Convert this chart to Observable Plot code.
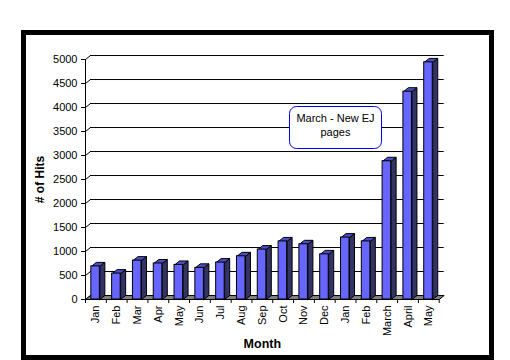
<!DOCTYPE html>
<html><head><meta charset="utf-8">
<script src="https://cdn.jsdelivr.net/npm/d3@7"></script>
<script src="https://cdn.jsdelivr.net/npm/@observablehq/plot@0.6"></script>
<style>body{margin:0;background:#fff}#chart{width:510px;height:360px}</style>
</head><body><div id="chart"></div>
<script>
const months = ["Jan","Feb","Mar","Apr","May","Jun","Jul","Aug","Sep","Oct","Nov","Dec","Jan","Feb","March","April","May"];
const hits = [690,540,810,750,720,660,770,900,1040,1210,1150,940,1290,1210,2880,4330,4940];
const yTicks = [0,500,1000,1500,2000,2500,3000,3500,4000,4500,5000];
const yLabel = "# of Hits";
const xLabel = "Month";
const note = ["March - New EJ","pages"];

const N = months.length;
const DX = 0.24, DY = 83;      // 3-D depth in data units
const X1 = 0.28, X2 = 0.69;    // bar face within category
const bars = months.map((m,i)=>({i, m, v: hits[i]}));
const poly = (pts, id) => pts.concat([pts[0]]).map(([x,y])=>({id,x,y}));
const sides = bars.flatMap(b => poly([[b.i+X2,0],[b.i+X2+DX,DY],[b.i+X2+DX,b.v+DY],[b.i+X2,b.v]], b.i));
const tops = bars.flatMap(b => poly([[b.i+X1,b.v],[b.i+X2,b.v],[b.i+X2+DX,b.v+DY],[b.i+X1+DX,b.v+DY]], b.i));
const floor = poly([[0,0],[N,0],[N+DX,DY],[DX,DY]], 0);

const svg = Plot.plot({
  width: 510, height: 360,
  marginLeft: 85, marginRight: 71.3, marginTop: 59, marginBottom: 61,
  style: {fontFamily: "'Liberation Sans', Arial, sans-serif", fontSize: "11px", background: "white", color: "black"},
  x: {domain: [0, N], axis: null},
  y: {domain: [0, 5000], ticks: yTicks, tickSize: 4, tickPadding: 4, tickFormat: "d", label: null},
  marks: [
    Plot.ruleY(yTicks, {y: d => d + DY, x1: DX, x2: N + DX, stroke: "black"}),
    Plot.link(yTicks, {x1: 0, y1: d => d, x2: DX, y2: d => d + DY, stroke: "black"}),
    Plot.line(floor, {x: "x", y: "y", z: "id", fill: "#808080", stroke: "black", strokeWidth: 1}),
    Plot.ruleX([0], {y1: 0, y2: 5000, stroke: "black"}),
    Plot.ruleX(d3.range(N + 1), {y1: 0, y2: -4 * 5000 / 240, stroke: "black"}),
    Plot.line(sides, {x: "x", y: "y", z: "id", fill: "#333366", stroke: "black", strokeWidth: 1}),
    Plot.line(tops, {x: "x", y: "y", z: "id", fill: "#4d4dc6", stroke: "black", strokeWidth: 1}),
    Plot.rect(bars, {x1: d => d.i + X1, x2: d => d.i + X2, y1: 0, y2: "v", fill: "#6666ff", stroke: "black"}),
    Plot.text(bars, {x: d => d.i + 0.5, y: 0, text: "m", rotate: -90, textAnchor: "end", dy: 6, fontSize: 11, fill: "black"}),
    Plot.text([yLabel], {frameAnchor: "left", dx: -45.5, rotate: -90, textAnchor: "middle", fontWeight: "bold", fontSize: 12, fill: "black"}),
    Plot.text([xLabel], {frameAnchor: "bottom", dy: 48, textAnchor: "middle", fontWeight: "bold", fontSize: 12.5, fill: "black"})
  ]
});
const s = d3.select(svg);
// outer frame
s.append("rect").attr("x", 23.5).attr("y", 32.5).attr("width", 468).attr("height", 325)
  .attr("fill", "none").attr("stroke", "black").attr("stroke-width", 5);
// annotation
const g = s.append("g");
g.append("rect").attr("x", 289.5).attr("y", 106.5).attr("width", 92).attr("height", 42).attr("rx", 7)
  .attr("fill", "white").attr("stroke", "#0000ff");
note.forEach((t, k) => g.append("text").attr("x", 335.5).attr("y", 122 + k * 13.5)
  .attr("text-anchor", "middle").attr("font-size", 11).attr("fill", "black").text(t));
document.getElementById("chart").append(svg);
</script></body></html>
